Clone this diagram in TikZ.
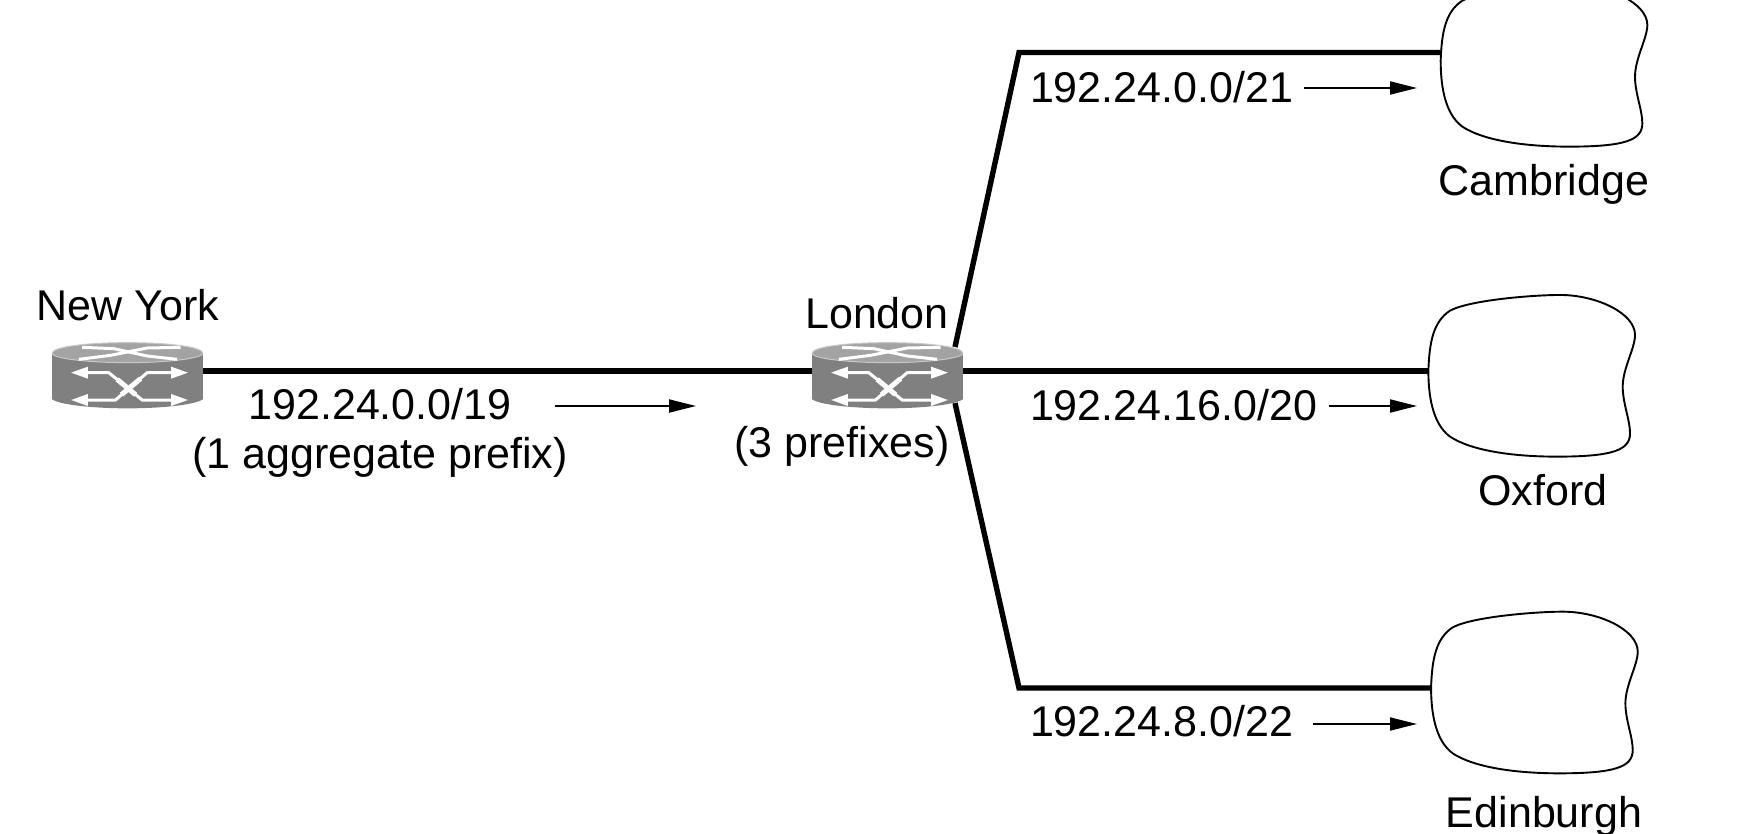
\documentclass[tikz,border=0pt]{standalone}
\usepackage{fontspec}
\setmainfont{Liberation Sans}
\usetikzlibrary{arrows.meta}
\definecolor{rbody}{gray}{0.50}
\definecolor{rtop}{gray}{0.64}
\newcommand{\cloudart}[1]{%
  \begin{scope}[shift={(#1.center)},x=0.33333pt,y=-0.33333pt,shift={(-395,-287.5)}]
    \draw[cloudline] (85,272) .. controls (88,185) and (100,125) .. (150,92)
      .. controls (210,60) and (400,45) .. (480,45)
      .. controls (590,45) and (705,100) .. (705,165)
      .. controls (705,205) and (668,265) .. (668,320)
      .. controls (668,370) and (690,420) .. (690,460)
      .. controls (690,510) and (640,530) .. (470,530)
      .. controls (330,530) and (210,510) .. (150,470)
      .. controls (95,430) and (85,340) .. (85,272) -- cycle;
  \end{scope}}
\newcommand{\routerart}[1]{%
  \begin{scope}[shift={(#1.center)},x=0.33333pt,y=-0.33333pt,shift={(-381,-333)}]
    \fill[rbody] (155,278) -- (155,418) .. controls (180,435) and (280,445) .. (381,445)
       .. controls (482,445) and (582,435) .. (607,418) -- (607,278) -- cycle;
    \draw[rtop!60!white,line width=1pt,fill=rtop] (155,280) .. controls (155,260) and (260,248) .. (381,248)
       .. controls (502,248) and (607,260) .. (607,280)
       .. controls (607,295) and (502,308) .. (381,308)
       .. controls (260,308) and (155,295) .. (155,280) -- cycle;
    \draw[white,line width=3pt,line join=round] (235,298) -- (330,286) -- (440,264) -- (540,262);
    \draw[white,line width=3pt,line join=round] (245,262) -- (340,266) -- (440,288) -- (530,298);
    \draw[white,line width=3pt,line join=round] (255,338) -- (325,338) -- (425,420) -- (520,420);
    \draw[white,line width=3pt,line join=round] (255,420) -- (345,420) -- (440,338) -- (520,338);
    \draw[white,line width=5pt] (350,358) -- (405,404);
    \draw[white,line width=5pt] (363,404) -- (420,356);
    \fill[white] (212,338) -- (262,320) -- (262,356) -- cycle;
    \fill[white] (212,420) -- (262,402) -- (262,438) -- cycle;
    \fill[white] (562,338) -- (512,320) -- (512,356) -- cycle;
    \fill[white] (562,420) -- (512,402) -- (512,438) -- cycle;
  \end{scope}}
\tikzset{
  x=1pt,y=-1pt,
  labeltext/.style={font=\fontsize{43}{50}\selectfont,inner sep=0pt,outer sep=0pt,text=black},
  routerbox/.style={minimum width=151pt,minimum height=74pt,inner sep=0pt,outer sep=0pt},
  cloudbox/.style={minimum width=206.7pt,minimum height=161.7pt,inner sep=0pt,outer sep=0pt},
  cloudline/.style={line width=1.9pt,black},
  link/.style={line width=5.4pt,black,miter limit=10},
  flow/.style={line width=1.8pt,black,-{Triangle[length=27pt,width=13pt]}}
}
\begin{document}
\begin{tikzpicture}
\useasboundingbox (0,0) rectangle (1758,834);
\clip (0,0) rectangle (1758,834);
% anchors
\node[routerbox] (ny) at (127.5,371) {};
\node[routerbox] (lon) at (887.5,371) {};
\node[cloudbox] (cam) at (1544,65.8) {};
\node[cloudbox] (oxf) at (1531.7,375.8) {};
\node[cloudbox] (edi) at (1534.4,692.5) {};
\coordinate (lonup) at (955,347);
\coordinate (londn) at (955,403);
\coordinate (c1) at (1019,52.5);
\coordinate (c3) at (1019,688);
% links
\draw[link] (ny.east) -- (lon.west);
\draw[link] (lon.east) -- (lon.east -| oxf.west);
\draw[link] (lonup) -- (c1) -- (c1 -| cam.west);
\draw[link] (londn) -- (c3) -- (c3 -| edi.west);
% shapes
\routerart{ny}
\routerart{lon}
\cloudart{cam}
\cloudart{oxf}
\cloudart{edi}
% labels
\node[labeltext,anchor=base] (tny) at (128,320) {New York};
\node[labeltext,anchor=base] (tlon) at (877,328) {London};
\node[labeltext,anchor=base] (tlp) at (842,457) {(3 prefixes)};
\node[labeltext,anchor=base] (t19) at (380,419) {192.24.0.0/19};
\node[labeltext,anchor=base] (tag) at (380,468) {(1 aggregate prefix)};
\node[labeltext,anchor=base west] (t21) at (1030,103) {192.24.0.0/21};
\node[labeltext,anchor=base west] (t20) at (1030,420) {192.24.16.0/20};
\node[labeltext,anchor=base west] (t22) at (1030,736) {192.24.8.0/22};
\node[labeltext,anchor=base] (tcam) at (1544,196) {Cambridge};
\node[labeltext,anchor=base] (toxf) at (1543,505) {Oxford};
\node[labeltext,anchor=base] (tedi) at (1544,827) {Edinburgh};
% flow arrows
\coordinate (a1s) at (555,406); \coordinate (a1e) at (696,406);
\coordinate (a2s) at (1304,88); \coordinate (a2e) at (1417,88);
\coordinate (a3s) at (1329,406); \coordinate (a3e) at (1417,406);
\coordinate (a4s) at (1313,724); \coordinate (a4e) at (1417,724);
\draw[flow] (a1s) -- (a1e);
\draw[flow] (a2s) -- (a2e);
\draw[flow] (a3s) -- (a3e);
\draw[flow] (a4s) -- (a4e);
\end{tikzpicture}
\end{document}
